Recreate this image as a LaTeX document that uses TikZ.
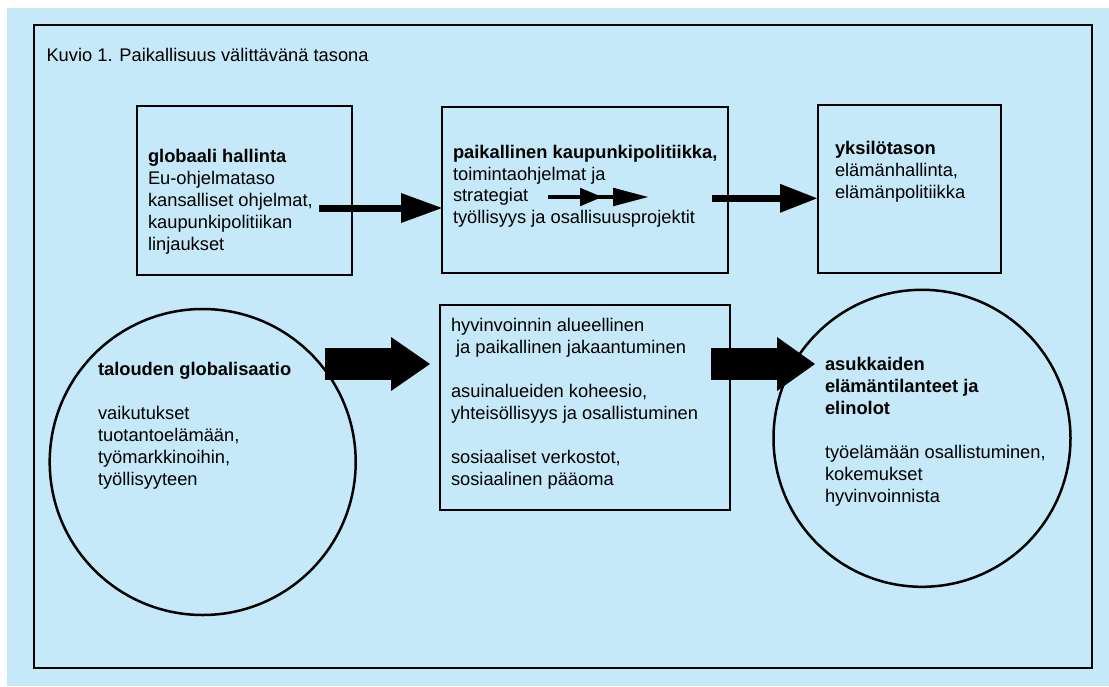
\documentclass[tikz,border=0pt]{standalone}
\usepackage{fontspec}
\setmainfont{Liberation Sans}
\usetikzlibrary{calc}
\definecolor{bgblue}{RGB}{197,233,248}
\newcommand\blkarrow[5]{%
  \draw[shaft,line width=#3] (#1) -- ($(#2)+(-#4+1,0)$);
  \fill[head] (#2) -- ($(#2)+(-#4,#5)$) -- ($(#2)+(-#4,-#5)$) -- cycle;}
\newcommand\lines[1]{\begin{tabular}[t]{@{}l@{}}#1\end{tabular}}
\begin{document}
\begin{tikzpicture}[x=1pt,y=-1pt,
  frame/.style={draw=black,line width=2.7pt},
  box/.style={draw=black,line width=2.7pt,rectangle,anchor=north west,inner sep=0pt,outer sep=0pt},
  ring/.style={draw=black,line width=2.5pt,circle,inner sep=0pt,outer sep=0pt},
  txt/.style={anchor=base west,inner sep=0pt,outer sep=0pt,font=\fontsize{18.3}{22}\selectfont},
  shaft/.style={draw=black,line cap=butt},
  head/.style={fill=black}]
\useasboundingbox (0,0) rectangle (1109,686);
\fill[bgblue] (7,8) rectangle (1109,686);
\draw[frame] (34,25) rectangle (1092,668);

\node[txt] (title) at (46.5,61.7) {Kuvio 1. Paikallisuus välittävänä tasona};

% boxes
\node[box,minimum width=215pt,minimum height=169pt] (b1) at (137,106) {};
\node[box,minimum width=286pt,minimum height=166pt] (b2) at (442,107) {};
\node[box,minimum width=183pt,minimum height=168pt] (b3) at (818,105) {};
\node[box,minimum width=290pt,minimum height=205pt] (b4) at (440,305) {};
\node[ring,minimum size=306pt] (c1) at (202.7,462) {};
\node[ring,minimum size=297pt] (c2) at (922,438.3) {};

% texts
\node[txt] (t1) at (148,162.7) {\lines{\textbf{globaali hallinta}\\Eu-ohjelmataso\\kansalliset ohjelmat,\\kaupunkipolitiikan\\linjaukset}};
\node[txt,font=\fontsize{18.3}{21.7}\selectfont] (t2) at (453,158.3) {\lines{\textbf{paikallinen kaupunkipolitiikka,}\\toimintaohjelmat ja\\strategiat\\työllisyys ja osallisuusprojektit}};
\node[txt] (t3) at (835,154.3) {\lines{\textbf{yksilötason}\\elämänhallinta,\\elämänpolitiikka}};
\node[txt] (t4) at (98,375) {\lines{\textbf{talouden globalisaatio}\\[22pt]vaikutukset\\tuotantoelämään,\\työmarkkinoihin,\\työllisyyteen}};
\node[txt] (t5) at (451,331.7) {\lines{hyvinvoinnin alueellinen\\\hspace*{5.1pt}ja paikallinen jakaantuminen\\[22pt]asuinalueiden koheesio,\\yhteisöllisyys ja osallistuminen\\[22pt]sosiaaliset verkostot,\\sosiaalinen pääoma}};
\node[txt] (t6) at (825,370) {\lines{\textbf{asukkaiden}\\\textbf{elämäntilanteet ja}\\\textbf{elinolot}\\[22pt]työelämään osallistuminen,\\kokemukset\\hyvinvoinnista}};

% connector end points
\coordinate (a1s) at (319,208);
\coordinate (a1e) at (b2.west |- a1s);
\coordinate (a2s) at (712,198.3);
\coordinate (a2e) at ($(b3.west |- a2s)+(-1,0)$);
\coordinate (a3s) at (548,197);
\coordinate (a3m) at (602,197);
\coordinate (a3e) at (648,197);
\coordinate (a4s) at (325,364);
\coordinate (a4e) at (430,364);
\coordinate (a5s) at (711,364);
\coordinate (a5e) at (815,364);

% arrows
\blkarrow{a1s}{a1e}{7pt}{41}{15}
\blkarrow{a2s}{a2e}{7pt}{37}{14.5}
\draw[shaft,line width=3.5pt] (a3s) -- ($(a3e)+(-34,0)$);
\fill[head] (a3m) -- ($(a3m)+(-22,9.3)$) -- ($(a3m)+(-22,-9.3)$) -- cycle;
\fill[head] (a3e) -- ($(a3e)+(-35,9.3)$) -- ($(a3e)+(-35,-9.3)$) -- cycle;
\blkarrow{a4s}{a4e}{32pt}{39}{27}
\blkarrow{a5s}{a5e}{32pt}{38}{27}
\end{tikzpicture}
\end{document}
